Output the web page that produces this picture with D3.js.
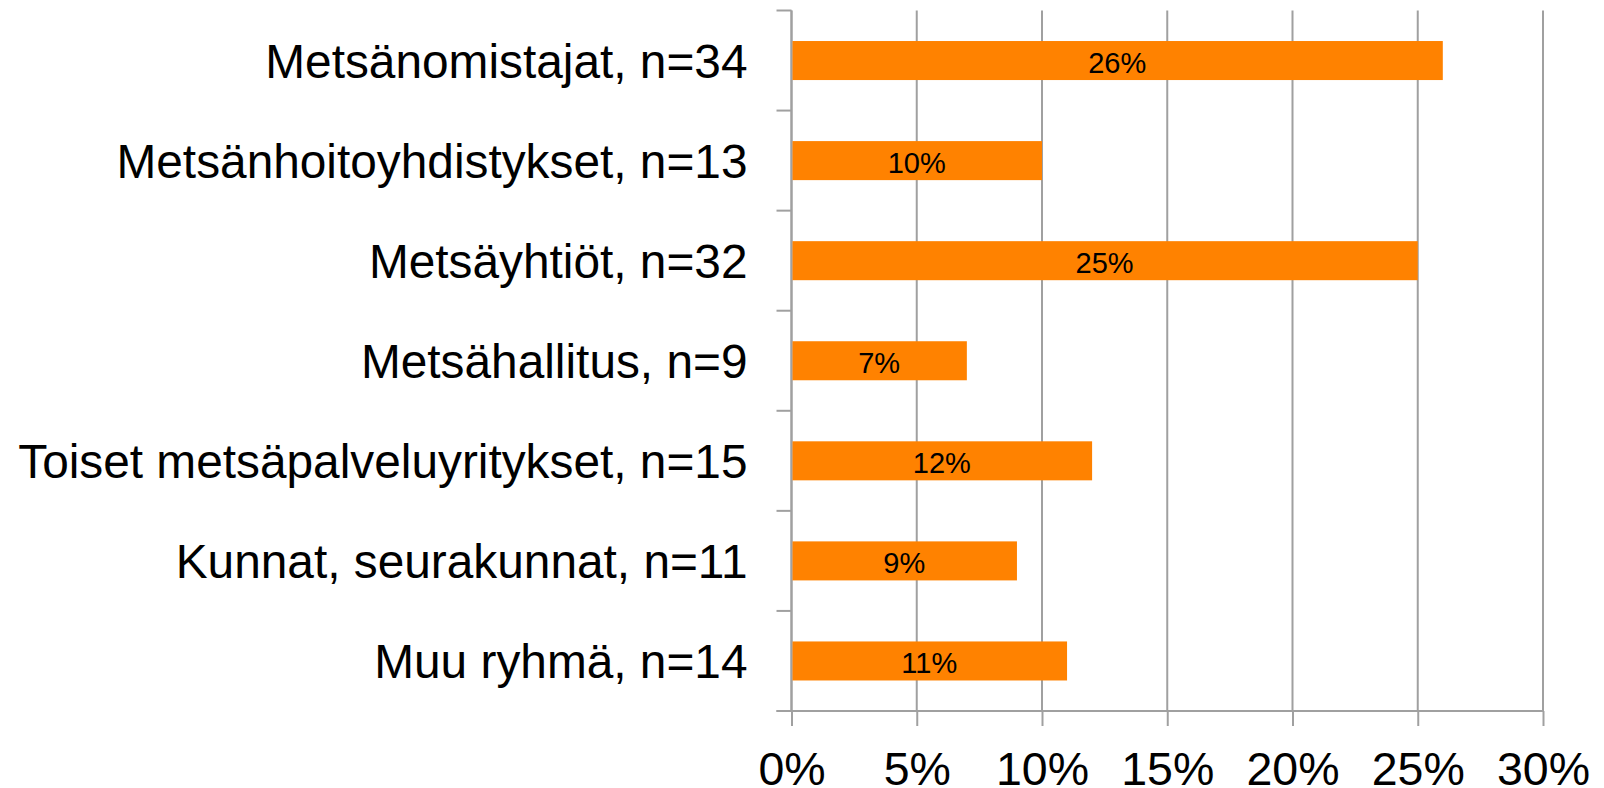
<!DOCTYPE html>
<html>
<head>
<meta charset="utf-8">
<script src="https://cdn.jsdelivr.net/npm/d3@7/dist/d3.min.js"></script>
<style>
  body { margin: 0; background: #fff; }
  text { font-family: "Liberation Sans", Arial, sans-serif; }
</style>
</head>
<body>
<svg class="chart"></svg>
<script>
const categories = ["Metsänomistajat, n=34", "Metsänhoitoyhdistykset, n=13", "Metsäyhtiöt, n=32",
  "Metsähallitus, n=9", "Toiset metsäpalveluyritykset, n=15", "Kunnat, seurakunnat, n=11", "Muu ryhmä, n=14"]
const values = [26, 10, 25, 7, 12, 9, 11]
const xTicks = [0, 5, 10, 15, 20, 25, 30]

const margin = {top: 10.5, right: 61, bottom: 77, left: 791.5}
const width = 1604 - margin.left - margin.right,
      height = 788 - margin.top - margin.bottom
const gridColor = "#a0a0a0"

let x = d3.scaleLinear()//percent scale
    .domain([0, 30])
    .range([0, width])
let y = d3.scaleBand()//one band per group
    .domain(categories)
    .range([0, height])
    .paddingInner(0.61)
    .paddingOuter(0.305)

let chart = d3.select(".chart")
    .attr("width", 1604)
    .attr("height", 788)
  .append("g")
    .attr("transform", "translate(" + margin.left + "," + margin.top + ")")

// vertical gridlines
chart.selectAll(".grid").data(xTicks).enter().append("line")
    .attr("class", "grid")
    .attr("x1", d => x(d)).attr("x2", d => x(d))
    .attr("y1", 0).attr("y2", height)
    .attr("stroke", gridColor).attr("stroke-width", 2)

// bottom axis, ticks point down; labels sit at the page's bottom edge like the original
let xAxis = d3.axisBottom(x)
    .tickValues(xTicks)
    .tickSize(15)
    .tickPadding(26)
    .tickFormat(d => d + "%")
let gx = chart.append("g")
    .attr("transform", "translate(0," + height + ")")
    .call(xAxis)
gx.select(".domain").remove()
gx.selectAll("line").attr("stroke", gridColor).attr("stroke-width", 2)
gx.selectAll("text").attr("font-size", 46.5).attr("fill", "#000")
    .style("font-family", "'Liberation Sans', Arial, sans-serif")

// bottom axis line (extends over the left tick)
chart.append("line")
    .attr("x1", -15).attr("x2", width)
    .attr("y1", height).attr("y2", height)
    .attr("stroke", gridColor).attr("stroke-width", 2)

// left axis with ticks at band boundaries
chart.append("line")
    .attr("x1", 0).attr("x2", 0)
    .attr("y1", 0).attr("y2", height)
    .attr("stroke", gridColor).attr("stroke-width", 2)
let bounds = categories.map(c => y(c) - y.step() * y.paddingInner() / 2)
bounds.push(height)
bounds[0] = 0
chart.selectAll(".ytick").data(bounds).enter().append("line")
    .attr("class", "ytick")
    .attr("x1", -15).attr("x2", 0)
    .attr("y1", d => d).attr("y2", d => d)
    .attr("stroke", gridColor).attr("stroke-width", 2)

// category labels
chart.selectAll(".cat").data(categories).enter().append("text")
    .attr("class", "cat")
    .attr("x", -44)
    .attr("y", d => y(d) + y.bandwidth() / 2)
    .attr("dy", "0.36em")
    .attr("text-anchor", "end")
    .attr("font-size", 47.8)
    .text(d => d)

// bars
chart.selectAll(".bar").data(values).enter().append("rect")
    .attr("class", "bar")
    .attr("x", x(0) + 1)
    .attr("y", (d, i) => y(categories[i]))
    .attr("width", d => x(d) - x(0) - 1)
    .attr("height", y.bandwidth())
    .attr("fill", "#ff8200")

// value labels
chart.selectAll(".val").data(values).enter().append("text")
    .attr("class", "val")
    .attr("x", d => x(d / 2))
    .attr("y", (d, i) => y(categories[i]) + y.bandwidth() / 2)
    .attr("dy", "0.42em")
    .attr("text-anchor", "middle")
    .attr("font-size", 29)
    .text(d => d + "%")
</script>
</body>
</html>
